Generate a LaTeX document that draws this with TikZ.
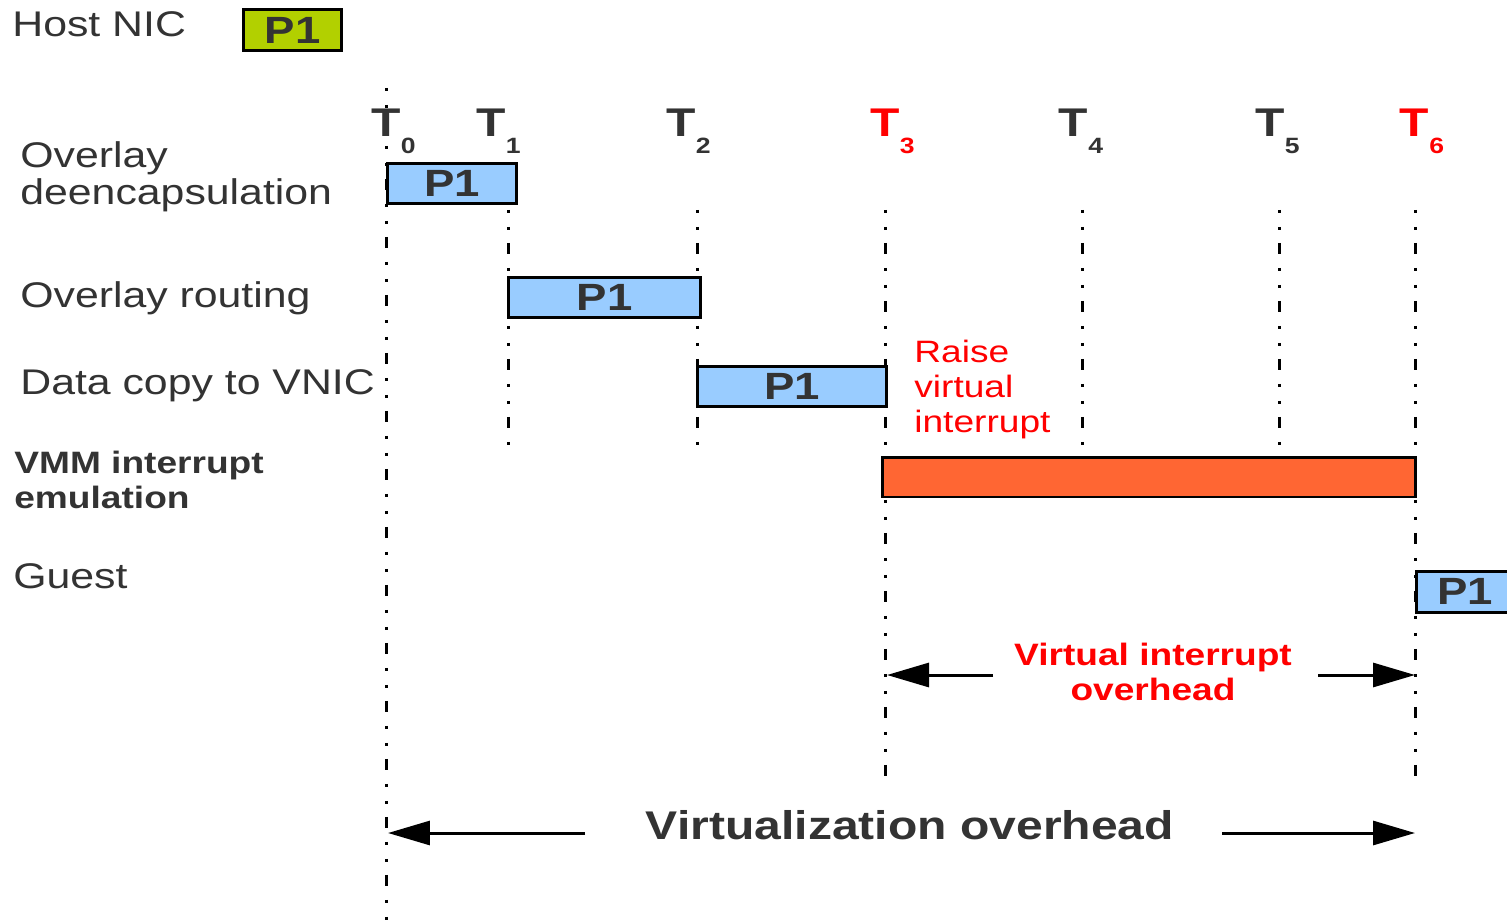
\documentclass[tikz,border=0pt]{standalone}
\usepackage{fontspec}
\setmainfont[FakeStretch=1.2]{Liberation Sans}
\usetikzlibrary{arrows.meta}

\definecolor{ink}{HTML}{333333}
\definecolor{pktblue}{HTML}{99CCFF}
\definecolor{nicgreen}{HTML}{B2D000}
\definecolor{vmmorange}{HTML}{FF6633}
\definecolor{alert}{HTML}{FF0000}

\tikzset{
  % dash-dot-dot time markers
  tick/.style={line width=0.06cm, line cap=butt,
    dash pattern=on 0.06cm off 0.28cm on 0.06cm off 0.26cm on 0.22cm off 0.28cm},
  pkt/.style={draw=black, line width=0.06cm, fill=pktblue, inner sep=0pt,
    minimum height=0.82cm, text=ink, font=\fontsize{21.6}{26}\selectfont\bfseries},
  % multi-line labels are anchored at the baseline of their last line
  rowlabel/.style={anchor=base west, inner sep=0pt, text=ink, align=left,
    font=\fontsize{20.3}{21.6}\selectfont},
  timelabel/.style={anchor=base, inner sep=0pt, text=ink,
    font=\fontsize{22.8}{26}\selectfont\bfseries},
  timesub/.style={anchor=base west, inner sep=0pt, text=ink,
    font=\fontsize{12.6}{14}\selectfont\bfseries},
  span/.style={line width=0.06cm, -{Triangle[length=0.84cm,width=0.48cm]}}
}

\begin{document}
\begin{tikzpicture}[x=0.02cm, y=-0.02cm]
\useasboundingbox (0,0) rectangle (1507,922);
\clip (0,0) rectangle (1507,922);

% ---- time marker lines ----
\coordinate (t0top) at (386,88);   \coordinate (t0bot) at (386,922);
\coordinate (t1top) at (508,210);  \coordinate (t1bot) at (508,446);
\coordinate (t2top) at (697,210);  \coordinate (t2bot) at (697,446);
\coordinate (t3top) at (885,210);  \coordinate (t3bot) at (885,776);
\coordinate (t4top) at (1082,210); \coordinate (t4bot) at (1082,446);
\coordinate (t5top) at (1279,210); \coordinate (t5bot) at (1279,446);
\coordinate (t6top) at (1415,210); \coordinate (t6bot) at (1415,776);
\foreach \i in {0,...,6} \draw[tick] (t\i top) -- (t\i bot);

% ---- time labels ----
\node[timelabel] (T0) at (386,137) {T};
\node[timesub] (T0s) at (400.5,154) {0};
\node[timelabel] (T1) at (491,137) {T};
\node[timesub] (T1s) at (505.5,154) {1};
\node[timelabel] (T2) at (681,137) {T};
\node[timesub] (T2s) at (695.5,154) {2};
\node[timelabel, text=alert] (T3) at (885,137) {T};
\node[timesub, text=alert] (T3s) at (899.5,154) {3};
\node[timelabel] (T4) at (1073.5,137) {T};
\node[timesub] (T4s) at (1088,154) {4};
\node[timelabel] (T5) at (1270,137) {T};
\node[timesub] (T5s) at (1284.5,154) {5};
\node[timelabel, text=alert] (T6) at (1414.5,137) {T};
\node[timesub, text=alert] (T6s) at (1429,154) {6};

% ---- row labels ----
\node[rowlabel] (hostnic) at (12,37) {Host NIC};
\node[rowlabel] (deencap) at (20,205) {Overlay\\deencapsulation};
\node[rowlabel] (routing) at (20,307) {Overlay routing};
\node[rowlabel] (copy) at (20,394) {Data copy to VNIC};
\node[rowlabel, font=\fontsize{17.6}{19.9}\selectfont\bfseries] (vmm) at (14,508)
  {VMM interrupt\\emulation};
\node[rowlabel] (guest) at (13,588) {Guest};

% ---- packet boxes ----
\node[pkt, fill=nicgreen, minimum width=1.98cm, minimum height=0.84cm] (pnic) at (292.5,30) {P1};
\node[pkt, minimum width=2.6cm] (pdeencap) at (452,183.5) {P1};
\node[pkt, minimum width=3.86cm] (proute) at (604.5,297.5) {P1};
\node[pkt, minimum width=3.8cm] (pcopy) at (792,386.5) {P1};
\node[pkt, fill=vmmorange, minimum width=10.68cm, minimum height=0.8cm] (pvmm) at (1149,477) {};
\node[pkt, minimum width=1.96cm] (pguest) at (1465,591.5) {P1};

% ---- annotations ----
\node[anchor=base west, inner sep=0pt, text=alert, align=left,
  font=\fontsize{17.6}{19.9}\selectfont] (raise) at (914,432)
  {Raise\\virtual\\interrupt};

\node[anchor=base, inner sep=0pt, text=alert, align=center,
  font=\fontsize{17.6}{19.9}\selectfont\bfseries] (vio) at (1153,700)
  {Virtual interrupt\\overhead};
\coordinate (vioL) at (993,675);  \coordinate (vioLtip) at (887,675);
\coordinate (vioR) at (1318,675); \coordinate (vioRtip) at (1415,675);
\draw[span] (vioL) -- (vioLtip);
\draw[span] (vioR) -- (vioRtip);

\node[anchor=base, inner sep=0pt, text=ink,
  font=\fontsize{22.8}{26}\selectfont\bfseries] (virt) at (910,839)
  {Virtualization overhead};
\coordinate (virtL) at (585,833);  \coordinate (virtLtip) at (388,833);
\coordinate (virtR) at (1222,833); \coordinate (virtRtip) at (1415,833);
\draw[span] (virtL) -- (virtLtip);
\draw[span] (virtR) -- (virtRtip);
\end{tikzpicture}
\end{document}
